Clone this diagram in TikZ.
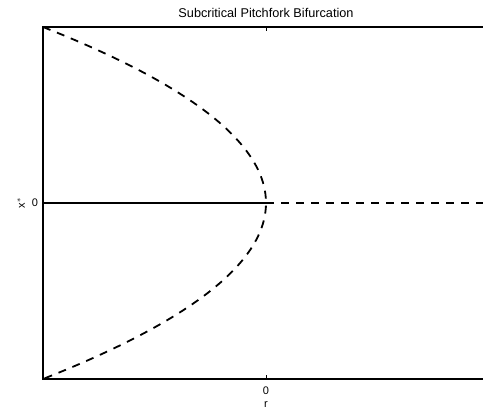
\documentclass[tikz,border=0pt]{standalone}
\usepackage{fontspec}
\setmainfont{Liberation Sans}
\begin{document}
\begin{tikzpicture}[x=1pt,y=-1pt,
  axisline/.style={line width=1.3pt},
  branch/.style={line width=1.8pt, dash pattern=on 8pt off 7pt},
  lbl/.style={font=\fontsize{11}{12}\selectfont, inner sep=0pt}]
\useasboundingbox (0,0) rectangle (483,412);
% axes box (right edge lies outside the picture)
\draw[axisline] (490,27) -- (43,27) -- (43,379) -- (490,379);
% ticks
\draw[line width=0.8pt] (266,379) -- (266,375);
\draw[line width=0.8pt] (266,27) -- (266,31);
% stable branch
\draw[line width=2pt] (43,203) -- (266,203);
% unstable branches
\draw[branch] (266,203) -- (490,203);
\draw[branch] plot[smooth, domain=-1:1, samples=81, variable=\t] ({266-223*\t*\t},{203+176*\t});
% labels
\node[lbl, font=\fontsize{12.7}{14}\selectfont] (title) at (266,13) {Subcritical Pitchfork Bifurcation};
\node[lbl] (r0) at (266,391) {0};
\node[lbl] (rl) at (266,405) {r};
\node[lbl] (x0) at (35,203) {0};
\node[lbl, rotate=90] (xl) at (21,203) {x$^{*}$};
\end{tikzpicture}
\end{document}
